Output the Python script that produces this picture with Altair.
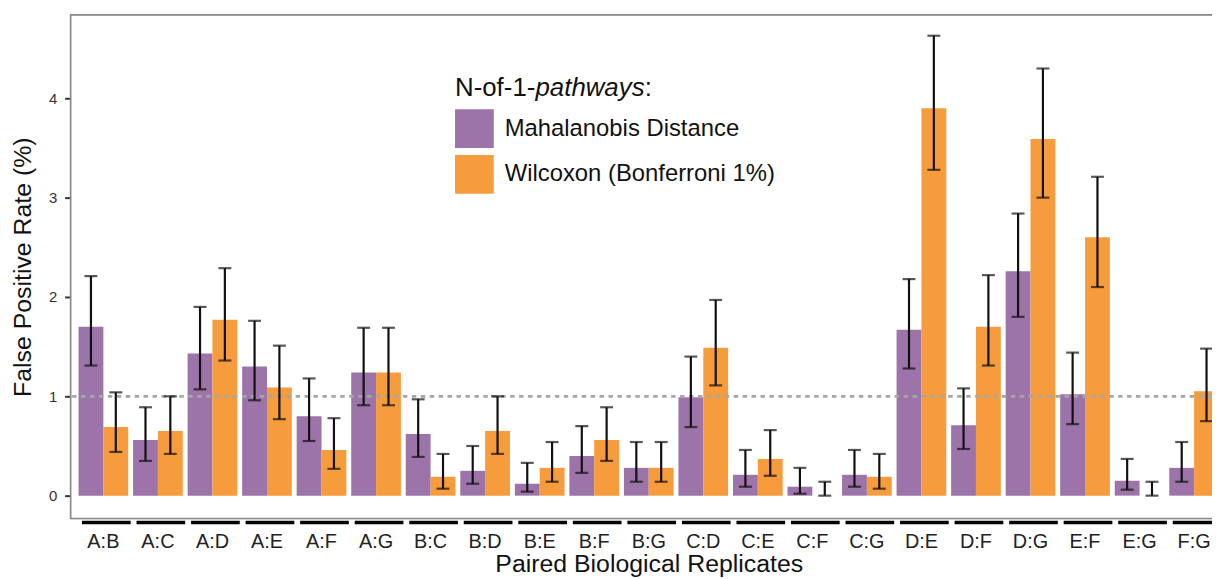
import altair as alt
import pandas as pd

pairs = ["A:B", "A:C", "A:D", "A:E", "A:F", "A:G", "B:C", "B:D", "B:E", "B:F", "B:G",
         "C:D", "C:E", "C:F", "C:G", "D:E", "D:F", "D:G", "E:F", "E:G", "F:G"]
methods = ["Mahalanobis Distance", "Wilcoxon (Bonferroni 1%)"]

mahal    = [1.70, 0.56, 1.43, 1.30, 0.80, 1.24, 0.62, 0.25, 0.12, 0.40, 0.28,
            0.99, 0.21, 0.09, 0.21, 1.67, 0.71, 2.26, 1.02, 0.15, 0.28]
mahal_lo = [1.31, 0.35, 1.07, 0.96, 0.55, 0.91, 0.39, 0.12, 0.04, 0.23, 0.14,
            0.69, 0.09, 0.02, 0.09, 1.28, 0.47, 1.80, 0.72, 0.06, 0.14]
mahal_hi = [2.21, 0.89, 1.90, 1.76, 1.18, 1.69, 0.97, 0.50, 0.33, 0.70, 0.54,
            1.40, 0.46, 0.28, 0.46, 2.18, 1.08, 2.84, 1.44, 0.37, 0.54]
wilc     = [0.69, 0.65, 1.77, 1.09, 0.46, 1.24, 0.19, 0.65, 0.28, 0.56, 0.28,
            1.49, 0.37, 0.00, 0.19, 3.90, 1.70, 3.59, 2.60, 0.00, 1.05]
wilc_lo  = [0.44, 0.42, 1.36, 0.77, 0.27, 0.91, 0.07, 0.42, 0.14, 0.35, 0.14,
            1.11, 0.20, 0.00, 0.07, 3.28, 1.31, 3.00, 2.10, 0.00, 0.75]
wilc_hi  = [1.04, 1.00, 2.29, 1.51, 0.78, 1.69, 0.42, 1.00, 0.54, 0.89, 0.54,
            1.97, 0.66, 0.14, 0.42, 4.63, 2.22, 4.30, 3.21, 0.14, 1.48]
y_ticks = [0, 1, 2, 3, 4]
colors = ["#9d74a9", "#f69c3c"]

rows = []
for i, p in enumerate(pairs):
    rows.append({"pair": p, "method": methods[0], "value": mahal[i], "lo": mahal_lo[i], "hi": mahal_hi[i]})
    rows.append({"pair": p, "method": methods[1], "value": wilc[i], "lo": wilc_lo[i], "hi": wilc_hi[i]})
df = pd.DataFrame(rows)
pair_df = pd.DataFrame({"pair": pairs})

FONT = "Liberation Sans"
W, H = 1149, 507

xscale = alt.Scale(domain=pairs, range=[0, 1164], paddingInner=0.089, paddingOuter=0.1457)
yscale = alt.Scale(domain=[-0.23, 4.84], nice=False)

xaxis = alt.Axis(title="Paired Biological Replicates", labelAngle=0, labelFontSize=20,
                 labelColor="#222222", labelPadding=13, ticks=False, tickSize=0, domain=False,
                 grid=False, titleFontSize=25, titleFontWeight="normal", titleColor="#111111",
                 titleY=53, titleBaseline="alphabetic", labelFont=FONT, titleFont=FONT)
yaxis = alt.Axis(title="False Positive Rate (%)", values=y_ticks, format="d", labelFontSize=15,
                 labelColor="#333333", labelPadding=8, tickSize=6, tickWidth=2,
                 tickColor="#333333", domain=False, grid=False, titleFontSize=25,
                 titleFontWeight="normal", titleColor="#111111", titleX=-40,
                 titleBaseline="alphabetic", labelFont=FONT, titleFont=FONT)

X = alt.X("pair:N", scale=xscale, sort=pairs, axis=xaxis)
XO = alt.XOffset("method:N", scale=alt.Scale(domain=methods, paddingInner=0, paddingOuter=0), sort=methods)

base = alt.Chart(df)

border = alt.Chart(alt.Data(values=[{}])).mark_rect(
    fillOpacity=0, stroke="#8a8a8a", strokeWidth=1.6
).encode(x=alt.value(0), x2=alt.value(1300), y=alt.value(0), y2=alt.value(H))

bars = base.mark_bar().encode(
    x=X, xOffset=XO,
    y=alt.Y("value:Q", scale=yscale, axis=yaxis),
    color=alt.Color("method:N", scale=alt.Scale(domain=methods, range=colors),
                    legend=alt.Legend(title=None, orient="none", legendX=387, legendY=95,
                                      symbolType="square", symbolSize=1521,
                                      symbolStrokeWidth=0, labelFontSize=24, labelOffset=11,
                                      rowPadding=7, labelColor="#111111", padding=0,
                                      labelLimit=0, labelFont=FONT)),
)

hline = alt.Chart(alt.Data(values=[{}])).mark_rule(
    color="#a6a6a6", strokeWidth=2.8, strokeDash=[4.5, 4.5]
).encode(y=alt.datum(1, scale=yscale))

err = base.mark_rule(color="#111111", strokeWidth=2.2).encode(
    x=X, xOffset=XO,
    y=alt.Y("lo:Q", scale=yscale, axis=yaxis), y2="hi:Q",
)
cap_hi = base.mark_tick(color="#111111", thickness=2.2, size=13, orient="horizontal").encode(
    x=X, xOffset=XO, y=alt.Y("hi:Q", scale=yscale, axis=yaxis))
cap_lo = base.mark_tick(color="#111111", thickness=2.2, size=13, orient="horizontal").encode(
    x=X, xOffset=XO, y=alt.Y("lo:Q", scale=yscale, axis=yaxis))

strips = alt.Chart(pair_df).mark_tick(
    color="#000000", thickness=3.5, size=49, orient="horizontal", xOffset=3, opacity=1
).encode(x=X, y=alt.value(H + 4))

t1 = alt.Chart(alt.Data(values=[{}])).mark_text(
    text="N-of-1-", align="left", baseline="alphabetic", fontSize=26, font=FONT, color="#111111"
).encode(x=alt.value(387), y=alt.value(82))
t2 = alt.Chart(alt.Data(values=[{}])).mark_text(
    text="pathways", align="left", baseline="alphabetic", fontSize=26, font=FONT,
    fontStyle="italic", color="#111111"
).encode(x=alt.value(468), y=alt.value(82))
t3 = alt.Chart(alt.Data(values=[{}])).mark_text(
    text=":", align="left", baseline="alphabetic", fontSize=26, font=FONT, color="#111111"
).encode(x=alt.value(578), y=alt.value(82))

chart = alt.layer(border, bars, hline, err, cap_hi, cap_lo, strips, t1, t2, t3).properties(
    width=W, height=H,
    padding={"left": 63, "top": 5, "right": 0, "bottom": 59},
    autosize=alt.AutoSizeParams(type="none"),
).configure_view(stroke=None).configure(font=FONT, background="white")

chart.save("out.html", embed_options={"renderer": "svg", "actions": False})
